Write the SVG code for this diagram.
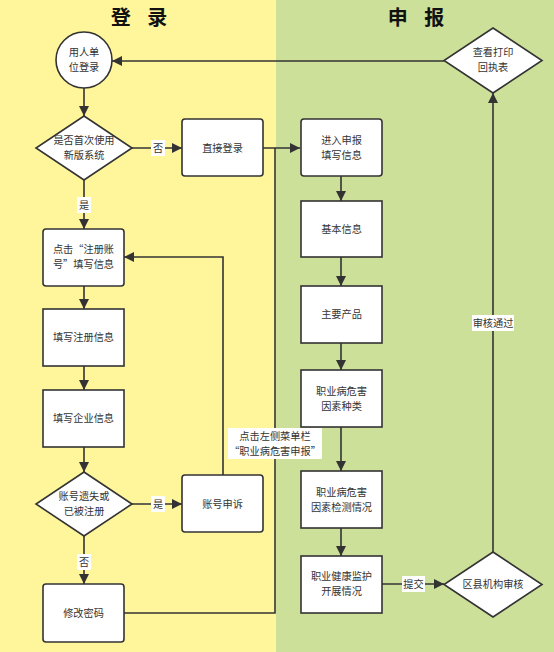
<svg xmlns="http://www.w3.org/2000/svg" width="554" height="652" viewBox="0 0 554 652">
<defs>
<marker id="ah" viewBox="0 0 10 10" refX="10" refY="5" markerWidth="10" markerHeight="10" markerUnits="userSpaceOnUse" orient="auto">
<path d="M0,0 L10,5 L0,10 z" fill="#333"/>
</marker>
<style>
.n{fill:#fff;stroke:#333;stroke-width:1.6}
.t{font-family:"Noto Sans CJK SC","Noto Sans",sans-serif;font-size:10.2px;fill:#333;text-anchor:middle}
.h{font-family:"Noto Sans CJK SC","Noto Sans",sans-serif;font-size:20px;font-weight:bold;fill:#111;text-anchor:middle;letter-spacing:6px}
.c{fill:none;stroke:#333;stroke-width:1.6}
.lb{fill:#fff}
</style>
</defs>
<rect x="0" y="0" width="276" height="652" fill="#FFF59A"/>
<rect x="276" y="0" width="278" height="652" fill="#CCE09A"/>
<text class="h" x="142" y="25">登 录</text>
<text class="h" x="419" y="25">申 报</text>

<g id="connectors">
<line class="c" x1="84" y1="88" x2="84" y2="116" marker-end="url(#ah)"/>
<line class="c" x1="132" y1="148" x2="182" y2="148" marker-end="url(#ah)"/>
<line class="c" x1="84" y1="180" x2="84" y2="229" marker-end="url(#ah)"/>
<line class="c" x1="84" y1="286" x2="84" y2="309" marker-end="url(#ah)"/>
<line class="c" x1="84" y1="366" x2="84" y2="390" marker-end="url(#ah)"/>
<line class="c" x1="84" y1="447" x2="84" y2="472" marker-end="url(#ah)"/>
<line class="c" x1="132" y1="504" x2="182" y2="504" marker-end="url(#ah)"/>
<line class="c" x1="84" y1="536" x2="84" y2="584" marker-end="url(#ah)"/>
<polyline class="c" points="223,475 223,257 124,257" marker-end="url(#ah)"/>
<polyline class="c" points="124,613 275,613 275,148"/>
<line class="c" x1="263" y1="148" x2="300" y2="148" marker-end="url(#ah)"/>
<line class="c" x1="341" y1="176" x2="341" y2="201" marker-end="url(#ah)"/>
<line class="c" x1="341" y1="257" x2="341" y2="286" marker-end="url(#ah)"/>
<line class="c" x1="341" y1="343" x2="341" y2="370" marker-end="url(#ah)"/>
<line class="c" x1="341" y1="427" x2="341" y2="471" marker-end="url(#ah)"/>
<line class="c" x1="341" y1="528" x2="341" y2="556" marker-end="url(#ah)"/>
<line class="c" x1="382" y1="584" x2="444" y2="584" marker-end="url(#ah)"/>
<line class="c" x1="493" y1="552" x2="493" y2="93" marker-end="url(#ah)"/>
<line class="c" x1="444" y1="61" x2="112" y2="61" marker-end="url(#ah)"/>
<rect class="lb" x="151" y="140" width="14" height="16"/>
<text class="t" x="158" y="152">否</text>
<rect class="lb" x="77" y="197" width="14" height="16"/>
<text class="t" x="84" y="209">是</text>
<rect class="lb" x="151" y="496" width="14" height="16"/>
<text class="t" x="158" y="508">是</text>
<rect class="lb" x="77" y="554" width="14" height="16"/>
<text class="t" x="84" y="566">否</text>
<rect class="lb" x="402" y="576" width="23" height="16"/>
<text class="t" x="413.5" y="588">提交</text>
<rect class="lb" x="472" y="315" width="42" height="16"/>
<text class="t" x="493" y="327">审核通过</text>
<rect class="lb" x="228" y="428" width="94" height="31"/>
<text class="t" x="275" y="440">点击左侧菜单栏</text>
<text class="t" x="275" y="455">“职业病危害申报”</text>
</g>

<g id="n1"><circle class="n" cx="84" cy="60" r="28"/><text class="t" x="84" y="56">用人单</text><text class="t" x="84" y="71">位登录</text></g>
<g id="n2"><polygon class="n" points="84,116 132,148 84,180 36,148"/><text class="t" x="84" y="144">是否首次使用</text><text class="t" x="84" y="159">新版系统</text></g>
<g id="n3"><rect class="n" x="182" y="119" width="81" height="57" rx="3"/><text class="t" x="222.5" y="152">直接登录</text></g>
<g id="n4"><rect class="n" x="43" y="229" width="81" height="57" rx="3"/><text class="t" x="83.5" y="253">点击“注册账</text><text class="t" x="83.5" y="268">号”填写信息</text></g>
<g id="n5"><rect class="n" x="43" y="309" width="81" height="57"/><text class="t" x="83.5" y="341">填写注册信息</text></g>
<g id="n6"><rect class="n" x="43" y="390" width="81" height="57"/><text class="t" x="83.5" y="422">填写企业信息</text></g>
<g id="n7"><polygon class="n" points="84,472 132,504 84,536 36,504"/><text class="t" x="84" y="500">账号遗失或</text><text class="t" x="84" y="515">已被注册</text></g>
<g id="n8"><rect class="n" x="182" y="475" width="81" height="57" rx="3"/><text class="t" x="222.5" y="508">账号申诉</text></g>
<g id="n9"><rect class="n" x="43" y="584" width="81" height="58" rx="3"/><text class="t" x="83.5" y="617">修改密码</text></g>
<g id="n10"><rect class="n" x="301" y="119" width="81" height="57" rx="3"/><text class="t" x="341.5" y="144">进入申报</text><text class="t" x="341.5" y="159">填写信息</text></g>
<g id="n11"><rect class="n" x="301" y="201" width="81" height="56"/><text class="t" x="341.5" y="233">基本信息</text></g>
<g id="n12"><rect class="n" x="301" y="286" width="81" height="57"/><text class="t" x="341.5" y="318">主要产品</text></g>
<g id="n13"><rect class="n" x="301" y="370" width="81" height="57"/><text class="t" x="341.5" y="395">职业病危害</text><text class="t" x="341.5" y="410">因素种类</text></g>
<g id="n14"><rect class="n" x="301" y="471" width="81" height="57"/><text class="t" x="341.5" y="496">职业病危害</text><text class="t" x="341.5" y="511">因素检测情况</text></g>
<g id="n15"><rect class="n" x="301" y="556" width="81" height="57"/><text class="t" x="341.5" y="580">职业健康监护</text><text class="t" x="341.5" y="595">开展情况</text></g>
<g id="n16"><polygon class="n" points="493,552 542,584.5 493,617 444,584.5"/><text class="t" x="493" y="588">区县机构审核</text></g>
<g id="n17"><polygon class="n" points="493,28 542,60.5 493,93 444,60.5"/><text class="t" x="493" y="56">查看打印</text><text class="t" x="493" y="71">回执表</text></g>
</svg>
